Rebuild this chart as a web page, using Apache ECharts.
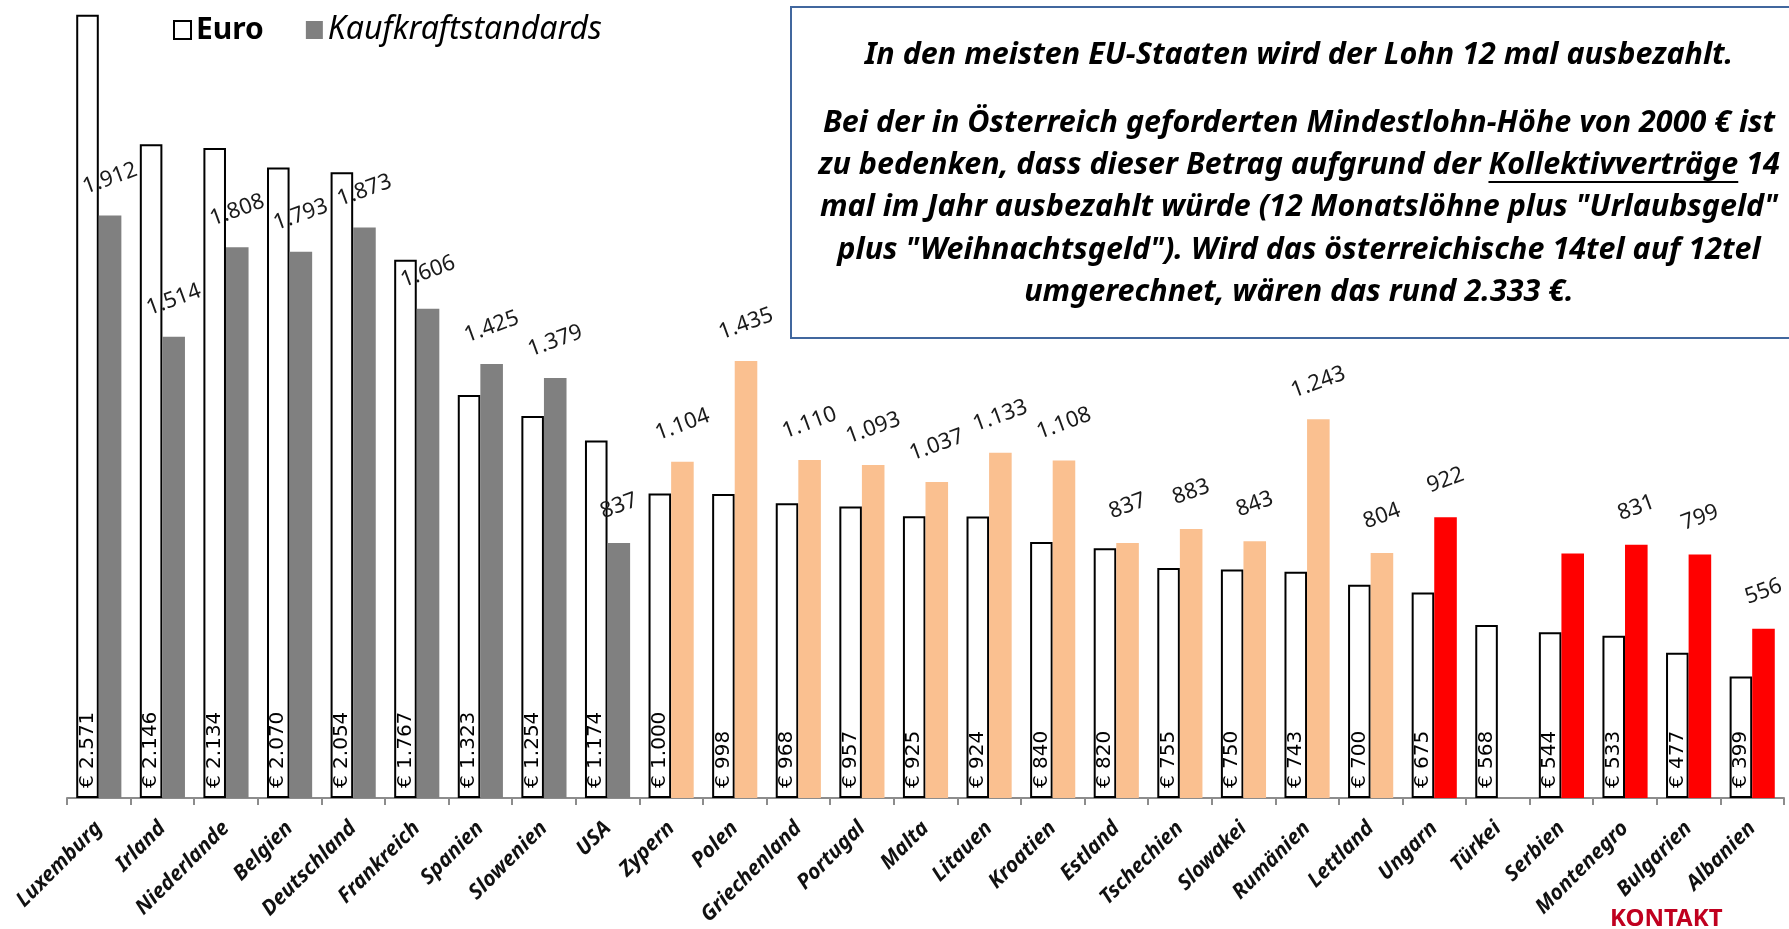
<!DOCTYPE html>
<html>
<head>
<meta charset="utf-8">
<script src="https://cdn.jsdelivr.net/npm/echarts@6/dist/echarts.min.js"></script>
<style>
  html, body { margin: 0; padding: 0; background: #fff; }
  #chart { width: 1789px; height: 929px; }
</style>
</head>
<body>
<div id="chart"></div>
<script>
const categories = ['Luxemburg', 'Irland', 'Niederlande', 'Belgien', 'Deutschland', 'Frankreich', 'Spanien',
    'Slowenien', 'USA', 'Zypern', 'Polen', 'Griechenland', 'Portugal', 'Malta', 'Litauen', 'Kroatien',
    'Estland', 'Tschechien', 'Slowakei', 'Rumänien', 'Lettland', 'Ungarn', 'Türkei', 'Serbien',
    'Montenegro', 'Bulgarien', 'Albanien']
const euroValues = [2571, 2146, 2134, 2070, 2054, 1767, 1323, 1254, 1174, 1000, 998, 968, 957, 925, 924,
    840, 820, 755, 750, 743, 700, 675, 568, 544, 533, 477, 399]
const kksValues = [1912, 1514, 1808, 1793, 1873, 1606, 1425, 1379, 837, 1104, 1435, 1110, 1093, 1037, 1133,
    1108, 837, 883, 843, 1243, 804, 922, null, 803, 831, 799, 556]
// Serbien hat im Original kein Datenlabel
const kksNoLabel = ['Serbien']
const boxLines = [
    'In den meisten EU-Staaten wird der Lohn 12 mal ausbezahlt.',
    'Bei der in Österreich geforderten Mindestlohn-Höhe von 2000 € ist',
    'zu bedenken, dass dieser Betrag aufgrund der Kollektivverträge 14',
    'mal im Jahr ausbezahlt würde (12 Monatslöhne plus "Urlaubsgeld"',
    'plus "Weihnachtsgeld"). Wird das österreichische 14tel auf 12tel',
    'umgerechnet, wären das rund 2.333 €.'
]
const underlined = 'Kollektivverträge'

const FONT = "'Noto Sans', 'DejaVu Sans', sans-serif"
const GREY = '#808080'
const ORANGE = '#FAC090'
const RED = '#FF0000'

function groupColor(i) {
    if (i < 9) return GREY
    if (i < 21) return ORANGE
    return RED
}

function fmt(v) {
    if (v >= 1000) return Math.floor(v / 1000) + '.' + String(v % 1000).padStart(3, '0')
    return String(v)
}

// Textbreite messen, um die Unterstreichung zu platzieren
const measureCtx = document.createElement('canvas').getContext('2d')
function textWidth(str, font) {
    measureCtx.font = font
    return measureCtx.measureText(str).width
}

const boxFontSize = 30.5
const boxFont = 'italic bold ' + boxFontSize + 'px ' + FONT
const boxCenterX = 1299
const boxLineY = [55, 123, 165, 207, 250, 292]

const graphics = [{
    type: 'rect',
    shape: {x: 791, y: 7, width: 1100, height: 331},
    style: {fill: '#fff', stroke: '#41679E', lineWidth: 2}
}]
boxLines.forEach((line, i) => {
    graphics.push({
        type: 'text',
        x: boxCenterX,
        y: boxLineY[i],
        style: {
            text: line,
            font: boxFont,
            fill: '#000',
            textAlign: 'center',
            textVerticalAlign: 'middle'
        }
    })
    const idx = line.indexOf(underlined)
    if (idx >= 0) {
        const full = textWidth(line, boxFont)
        const x0 = boxCenterX - full / 2 + textWidth(line.slice(0, idx), boxFont)
        const x1 = x0 + textWidth(underlined, boxFont)
        graphics.push({
            type: 'line',
            shape: {x1: x0, y1: boxLineY[i] + 17, x2: x1, y2: boxLineY[i] + 17},
            style: {stroke: '#000', lineWidth: 2}
        })
    }
})
graphics.push({
    type: 'text',
    left: 1610,
    top: 907,
    style: {
        text: 'KONTAKT',
        font: "bold 24px 'Liberation Sans Narrow', 'Noto Sans', sans-serif",
        fill: '#C0001F'
    }
})

const chart = echarts.init(document.getElementById('chart'))
const option = {
    animation: false,
    backgroundColor: '#fff',
    textStyle: {fontFamily: FONT},
    legend: {
        left: 168,
        top: 9,
        icon: 'rect',
        itemWidth: 17,
        itemHeight: 18,
        itemGap: 42,
        textStyle: {fontSize: 30, color: '#000', fontFamily: FONT},
        data: [
            {name: 'Euro', textStyle: {fontWeight: 'bold'}},
            {name: 'Kaufkraftstandards', textStyle: {fontStyle: 'italic', fontSize: 32}}
        ]
    },
    grid: {
        left: 67,
        right: 5,
        top: 6,
        bottom: 131
    },
    xAxis: {
        type: 'category',
        data: categories,
        axisLine: {show: true, lineStyle: {color: '#8c8c8c', width: 2}},
        axisTick: {show: true, length: 7, lineStyle: {color: '#8c8c8c', width: 2}},
        axisLabel: {
            interval: 0,
            rotate: 45,
            margin: 27,
            fontSize: 21,
            fontWeight: 'bold',
            fontStyle: 'italic',
            color: '#111'
        }
    },
    yAxis: {
        type: 'value',
        min: 0,
        max: 2600,
        show: false,
        splitLine: {show: false}
    },
    series: [{
        name: 'Euro',
        type: 'bar',
        barGap: '0%',
        barCategoryGap: '29%',
        itemStyle: {color: '#fff', borderColor: '#000', borderWidth: 2},
        label: {
            show: true,
            position: 'insideBottom',
            rotate: 90,
            align: 'left',
            verticalAlign: 'middle',
            distance: 10,
            fontFamily: "'DejaVu Sans', sans-serif",
            fontSize: 20,
            color: '#000',
            formatter: p => '€ ' + fmt(p.value)
        },
        data: euroValues
    }, {
        name: 'Kaufkraftstandards',
        type: 'bar',
        itemStyle: {color: GREY},
        label: {
            show: true,
            position: 'top',
            rotate: 20,
            align: 'center',
            verticalAlign: 'middle',
            distance: 37,
            fontSize: 22,
            color: '#1a1a1a',
            formatter: p => fmt(p.value)
        },
        data: kksValues.map((v, i) => {
            const item = {value: v, itemStyle: {color: groupColor(i)}}
            if (kksNoLabel.includes(categories[i])) item.label = {show: false}
            return item
        })
    }],
    graphic: graphics
}
chart.setOption(option)
</script>
</body>
</html>
